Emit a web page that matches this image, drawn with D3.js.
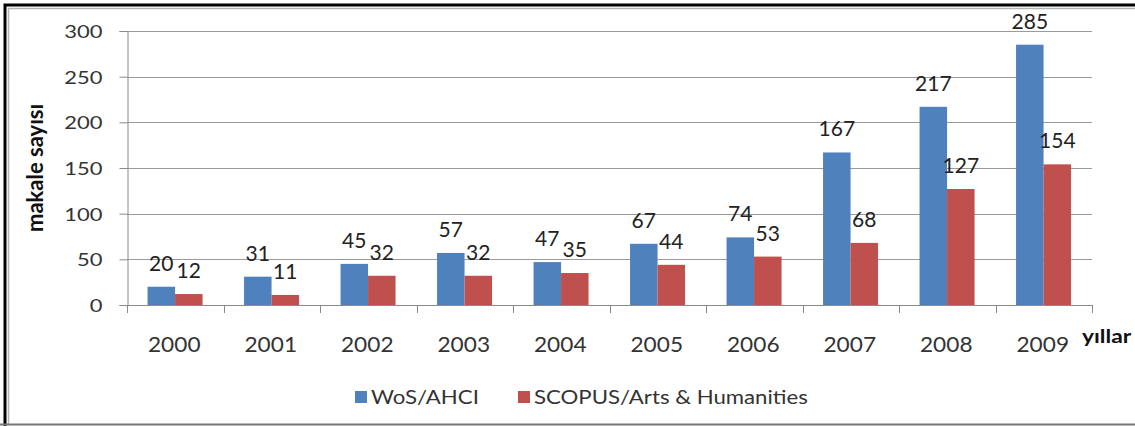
<!DOCTYPE html>
<html>
<head>
<meta charset="utf-8">
<script src="https://cdn.jsdelivr.net/npm/d3@7"></script>
<style>
  body { margin: 0; background: #fff; }
  svg { display: block; font-family: Lato, "Open Sans", sans-serif; }
</style>
</head>
<body>
<svg id="chart" width="1135" height="426"></svg>
<script>
const years = ["2000", "2001", "2002", "2003", "2004", "2005", "2006", "2007", "2008", "2009"];
const wos = [20, 31, 45, 57, 47, 67, 74, 167, 217, 285];
const scopus = [12, 11, 32, 32, 35, 44, 53, 68, 127, 154];
const seriesNames = ["WoS/AHCI", "SCOPUS/Arts & Humanities"];
const seriesColors = ["#4f81bd", "#c0504d"];
const yTicks = [0, 50, 100, 150, 200, 250, 300];

const width = 1135;
const height = 426;
const plot = { left: 127, right: 1092, top: 31, bottom: 305 };

const svg = d3.select("#chart");

// frame like the pasted picture
svg.append("rect")
  .attr("width", width)
  .attr("height", height)
  .attr("fill", "#fff");

svg.append("path")
  .attr("d", `M5,${height} V5 H${width}`)
  .attr("fill", "none")
  .attr("stroke", "#000")
  .attr("stroke-width", 3);

svg.append("path")
  .attr("d", `M8.5,${height - 2} V8.5 H${width}`)
  .attr("fill", "none")
  .attr("stroke", "#b4b4b4")
  .attr("stroke-width", 1.5);

svg.append("line")
  .attr("x1", 0)
  .attr("x2", width)
  .attr("y1", height - 1.5)
  .attr("y2", height - 1.5)
  .attr("stroke", "#777")
  .attr("stroke-width", 2);

const x0 = d3.scaleBand()
  .domain(years)
  .range([plot.left, plot.right]);

const x1 = d3.scaleBand()
  .domain(seriesNames)
  .range([x0.bandwidth() * 0.213, x0.bandwidth() * 0.783]);

const y = d3.scaleLinear()
  .domain([0, 300])
  .range([plot.bottom, plot.top]);

// gridlines
svg.append("g")
  .selectAll("line")
  .data(yTicks.filter(d => d > 0))
  .join("line")
  .attr("x1", plot.left)
  .attr("x2", plot.right)
  .attr("y1", d => Math.round(y(d)) + 0.5)
  .attr("y2", d => Math.round(y(d)) + 0.5)
  .attr("stroke", "#9a9a9a")
  .attr("stroke-width", 1);

// y axis
const yAxis = svg.append("g")
  .attr("transform", `translate(${plot.left + 0.5},0)`)
  .call(d3.axisLeft(y).tickValues(yTicks).tickSize(8).tickPadding(0));

yAxis.select(".domain").attr("stroke", "#8a8a8a");
yAxis.selectAll(".tick line").attr("stroke", "#8a8a8a");
yAxis.selectAll(".tick text")
  .attr("x", null)
  .attr("dy", null)
  .attr("font-size", 18)
  .attr("fill", "#333")
  .attr("font-family", "Lato, sans-serif")
  .attr("transform", "translate(-25,6.5) scale(1.22,1)");

// x axis
const boundaries = d3.range(years.length + 1).map(i => plot.left + i * x0.step());

const xAxis = svg.append("g");
xAxis.append("line")
  .attr("x1", plot.left)
  .attr("x2", plot.right)
  .attr("y1", plot.bottom + 0.5)
  .attr("y2", plot.bottom + 0.5)
  .attr("stroke", "#8a8a8a");

xAxis.selectAll(".xtick")
  .data(boundaries)
  .join("line")
  .attr("class", "xtick")
  .attr("x1", d => Math.round(d) + 0.5)
  .attr("x2", d => Math.round(d) + 0.5)
  .attr("y1", plot.bottom)
  .attr("y2", plot.bottom + 8)
  .attr("stroke", "#8a8a8a");

xAxis.selectAll(".xlabel")
  .data(years)
  .join("text")
  .attr("class", "xlabel")
  .attr("transform", d => `translate(${x0(d) + x0.bandwidth() / 2 - 1},352) scale(1.03,1)`)
  .attr("text-anchor", "middle")
  .attr("font-size", 22)
  .attr("fill", "#333")
  .text(d => d);

// bars
const rows = years.map((yr, i) => ({ year: yr, values: [wos[i], scopus[i]] }));

const groups = svg.append("g")
  .selectAll("g")
  .data(rows)
  .join("g")
  .attr("transform", d => `translate(${x0(d.year)},0)`);

groups.selectAll("rect")
  .data(d => d.values.map((v, k) => ({ key: seriesNames[k], value: v, color: seriesColors[k] })))
  .join("rect")
  .attr("x", d => x1(d.key))
  .attr("width", x1.bandwidth())
  .attr("y", d => y(d.value))
  .attr("height", d => y(0) - y(d.value))
  .attr("fill", d => d.color);

groups.selectAll("text")
  .data(d => d.values.map((v, k) => ({ key: seriesNames[k], value: v })))
  .join("text")
  .attr("x", d => x1(d.key) + x1.bandwidth() / 2)
  .attr("y", d => y(d.value) - 16)
  .attr("text-anchor", "middle")
  .attr("font-size", 21)
  .attr("fill", "#222")
  .text(d => d.value);

// axis titles
svg.append("text")
  .attr("transform", `translate(43,168) rotate(-90)`)
  .attr("text-anchor", "middle")
  .attr("font-size", 22)
  .attr("font-weight", "bold")
  .attr("fill", "#111")
  .text("makale sayısı");

svg.append("text")
  .attr("transform", "translate(1082,343) scale(1.2,1)")
  .attr("font-size", 19)
  .attr("font-weight", "bold")
  .attr("fill", "#111")
  .text("yıllar");

// legend
const legend = svg.append("g")
  .attr("transform", "translate(355,0)");

const legendX = [0, 163];

const items = legend.selectAll("g")
  .data(seriesNames)
  .join("g")
  .attr("transform", (d, i) => `translate(${legendX[i]},391)`);

items.append("rect")
  .attr("width", 12)
  .attr("height", 12)
  .attr("fill", (d, i) => seriesColors[i]);

items.append("text")
  .attr("transform", "translate(16,12.5) scale(1.17,1)")
  .attr("font-size", 19)
  .attr("fill", "#333")
  .text(d => d);
</script>
</body>
</html>
